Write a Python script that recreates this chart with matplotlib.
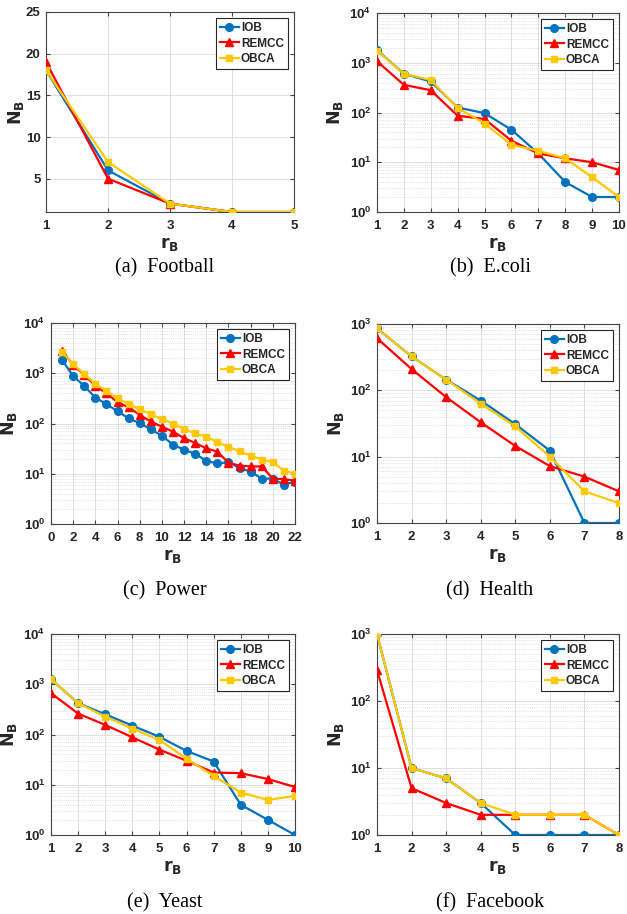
import numpy as np
import matplotlib.pyplot as plt
from matplotlib.ticker import LogLocator, NullFormatter

# ---- data ----
football_r = [1, 2, 3, 4, 5]
football_iob = [18, 6, 2, 1, 1]
football_remcc = [19, 5, 2, 1, 1]
football_obca = [18, 7, 2, 1, 1]

ecoli_r = list(range(1, 11))
ecoli_iob = [1800, 600, 420, 126, 97, 45, 15, 4, 2, 2]
ecoli_remcc = [1070, 360, 280, 86, 74, 27, 15, 12, 10, 7]
ecoli_obca = [1750, 600, 450, 123, 60, 22.5, 17, 12, 5, 2]

power_r = list(range(1, 23))
power_iob = [1830, 880, 557, 327, 244, 175, 127, 101, 77, 57, 38, 30, 25, 18, 16, 17, 13, 11, 8, 8, 6, 7]
power_remcc = [2800, 1460, 935, 566, 400, 265, 210, 148, 110, 86, 69, 51, 41, 32, 27.5, 16.6, 14.5, 14, 14, 8, 7.8, 7.3]
power_obca = [2700, 1500, 970, 611, 443, 318, 244, 192, 152, 122, 100, 77, 64, 54, 43, 34, 28, 23, 19, 17, 11.5, 10]

health_r = list(range(1, 9))
health_iob = [860, 324, 145, 70, 31, 12.3, 1, 1]
health_remcc = [610, 209, 79, 33, 14.5, 7.2, 5, 3]
health_obca = [860, 324, 145, 63, 28.5, 10, 3, 2]

yeast_r = list(range(1, 11))
yeast_iob = [1260, 420, 253, 150, 90, 47, 29, 4, 2, 1]
yeast_remcc = [665, 261, 155, 88, 50, 30, 17.5, 17, 13, 9]
yeast_obca = [1260, 420, 227, 131, 78, 33, 15, 7, 5, 6]

facebook_r = list(range(1, 9))
facebook_iob = [1000, 10, 7, 3, 1, 1, 1, 1]
facebook_remcc = [290, 5, 3, 2, 2, 2, 2, 1]
facebook_obca = [1000, 10, 7, 3, 2, 2, 2, 1]

captions = ['(a)  Football', '(b)  E.coli', '(c)  Power', '(d)  Health', '(e)  Yeast', '(f)  Facebook']

C_IOB = '#0072BD'
C_REMCC = '#FF0000'
C_OBCA = '#FFC800'

W, H = 627, 914
fig = plt.figure(figsize=(W / 100, H / 100), dpi=100)
plt.rcParams['font.family'] = ['Liberation Sans', 'DejaVu Sans']

# axes boxes in pixels: left, right, top, bottom
boxes = [(46, 294, 12, 212), (377, 619, 13, 212),
         (51, 295, 323, 524), (377, 619, 324, 523),
         (51, 295, 634, 835), (377, 619, 634, 835)]
cap_y = [268, 268, 591, 591, 903, 903]
cap_x = [165, 490, 165, 490, 165, 490]


def make_ax(i):
    l, r, t, b = boxes[i]
    return fig.add_axes([l / W, 1 - b / H, (r - l) / W, (b - t) / H])


def draw(ax, x, iob, remcc, obca, log=True):
    ax.plot(x, iob, '-o', color=C_IOB, lw=1.6, ms=5.5, label='IOB', zorder=3)
    ax.plot(x, remcc, '-^', color=C_REMCC, lw=1.6, ms=6, label='REMCC', zorder=4)
    ax.plot(x, obca, '-s', color=C_OBCA, lw=1.6, ms=4.8, label='OBCA', zorder=5)
    if log:
        ax.set_yscale('log')
        ax.yaxis.set_major_locator(LogLocator(base=10, numticks=10))
        ax.yaxis.set_minor_locator(LogLocator(base=10, subs=np.arange(2, 10), numticks=10))
        ax.yaxis.set_minor_formatter(NullFormatter())
        ax.grid(True, which='minor', axis='y', color='#cccccc', lw=0.5, ls=':')
    ax.grid(True, which='major', color='#d9d9d9', lw=0.6)
    ax.set_axisbelow(True)
    for s in ax.spines.values():
        s.set_color('#444444')
        s.set_linewidth(0.8)
    ax.tick_params(which='both', direction='in', labelsize=9.5, color='#444444',
                   length=3, top=True, right=True)
    ax.tick_params(axis='x', pad=6)
    ax.tick_params(axis='y', pad=4)
    ax.tick_params(which='minor', length=0)
    for lab in ax.get_xticklabels() + ax.get_yticklabels():
        lab.set_fontweight('bold')
        lab.set_color('#262626')
    ax.set_xlabel(r'$\mathbf{r_B}$', fontsize=12.5, color='#262626', labelpad=2)
    ax.set_ylabel(r'$\mathbf{N_B}$', fontsize=12.5, color='#262626',
                  labelpad=3 if log else 0)
    leg = ax.legend(loc='upper right', fontsize=8.5, frameon=True, fancybox=False,
                    handlelength=1.6, handletextpad=0.2, borderpad=0.35,
                    labelspacing=0.3, borderaxespad=0.5, framealpha=1)
    leg.get_frame().set_edgecolor('#262626')
    leg.get_frame().set_linewidth(0.8)
    for t in leg.get_texts():
        t.set_fontweight('bold')
        t.set_color('#262626')


# (a) Football - linear
ax = make_ax(0)
ax.set_xlim(1, 5)
ax.set_ylim(1, 25)
ax.set_xticks(football_r)
ax.set_yticks([5, 10, 15, 20, 25])
draw(ax, football_r, football_iob, football_remcc, football_obca, log=False)

# (b) E.coli
ax = make_ax(1)
ax.set_xlim(1, 10)
ax.set_ylim(1, 1e4)
ax.set_xticks(ecoli_r)
draw(ax, ecoli_r, ecoli_iob, ecoli_remcc, ecoli_obca)

# (c) Power
ax = make_ax(2)
ax.set_xlim(0, 22)
ax.set_ylim(1, 1e4)
ax.set_xticks(range(0, 23, 2))
draw(ax, power_r, power_iob, power_remcc, power_obca)

# (d) Health
ax = make_ax(3)
ax.set_xlim(1, 8)
ax.set_ylim(1, 1e3)
ax.set_xticks(health_r)
draw(ax, health_r, health_iob, health_remcc, health_obca)

# (e) Yeast
ax = make_ax(4)
ax.set_xlim(1, 10)
ax.set_ylim(1, 1e4)
ax.set_xticks(yeast_r)
draw(ax, yeast_r, yeast_iob, yeast_remcc, yeast_obca)

# (f) Facebook
ax = make_ax(5)
ax.set_xlim(1, 8)
ax.set_ylim(1, 1e3)
ax.set_xticks(facebook_r)
draw(ax, facebook_r, facebook_iob, facebook_remcc, facebook_obca)

for i, cap in enumerate(captions):
    fig.text(cap_x[i] / W, 1 - cap_y[i] / H, cap, ha='center', va='center',
             fontsize=14.5, family='Liberation Serif')

fig.savefig('out.png', dpi=100)
